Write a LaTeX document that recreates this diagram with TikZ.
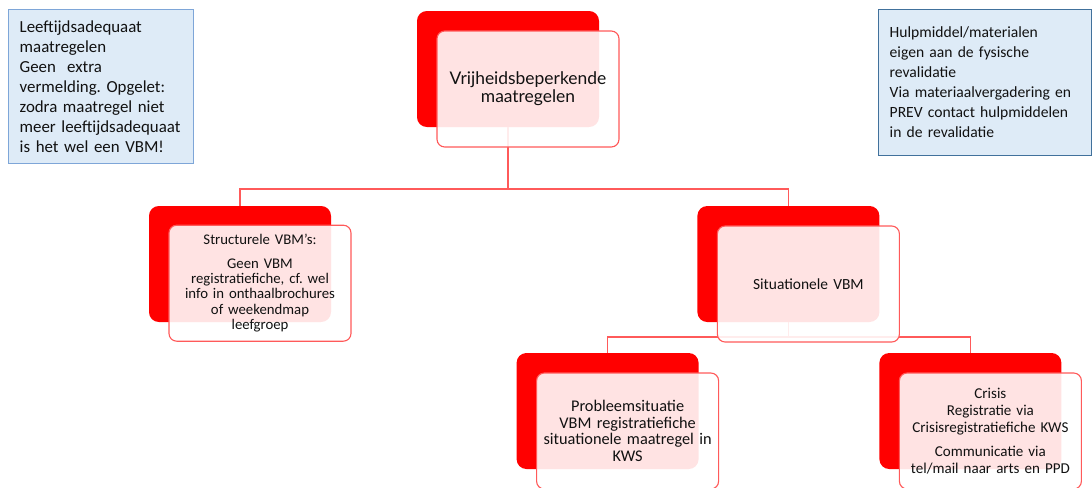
\documentclass[tikz,border=0pt]{standalone}
\usepackage{fontspec}
\setmainfont{Carlito}
\newfontfamily\latofont{Lato}
\usetikzlibrary{positioning}
\definecolor{vbmRed}{HTML}{FF0000}
\definecolor{linkRed}{HTML}{FF5A5A}
\definecolor{noteFill}{HTML}{DEEBF7}
\definecolor{noteEdgeA}{HTML}{7EA6D8}
\definecolor{noteEdgeB}{HTML}{41719C}
\definecolor{textDark}{HTML}{111111}
\frenchspacing
\hyphenpenalty=10000
\hbadness=10000

\begin{document}
\begin{tikzpicture}[
    back/.style={rectangle, rounded corners=7pt, fill=vbmRed,
                 minimum width=4.55cm, minimum height=2.9cm},
    front/.style={rectangle, rounded corners=5.5pt, draw=linkRed, line width=0.8pt,
                  fill=white, fill opacity=0.89, text opacity=1,
                  minimum width=4.55cm, minimum height=2.9cm,
                  align=center, text width=4.3cm, text=textDark},
    note/.style={rectangle, draw=#1, fill=noteFill, line width=0.7pt,
                 anchor=north west, align=left, inner xsep=0.28cm, text=textDark},
    link/.style={draw=linkRed, line width=0.9pt},
  ]
    \useasboundingbox (0,0) rectangle (27.3,-12.175);

    % side notes
    \node[note=noteEdgeA, text width=4.07cm, minimum height=3.85cm,
          font=\fontsize{12}{14.2}\selectfont] (age) at (0.2,-0.225)
      {Leeftijdsadequaat\\maatregelen\\Geen\ \ extra\\vermelding. Opgelet:\\zodra maatregel niet\\meer~leeftijdsadequaat\\is het wel een VBM!};
    \node[note=noteEdgeB, text width=4.76cm, minimum height=3.65cm,
          font=\fontsize{11.1}{14.2}\selectfont] (aid) at (21.95,-0.225)
      {Hulpmiddel/materialen\\eigen aan de fysische\\revalidatie\\Via materiaalvergadering en\\PREV contact hulpmiddelen\\in de revalidatie};

    % back blocks
    \node[back] (vbm) at (12.7,-1.725) {};
    \node[back] (struct) at (6.0,-6.6) {};
    \node[back] (situ) at (19.71,-6.6) {};
    \node[back] (probl) at (15.19,-10.275) {};
    \node[back] (crisis) at (24.26,-10.275) {};

    % connectors
    \coordinate (split1) at (12.7,-4.725);
    \coordinate (split2) at (19.71,-8.425);
    \draw[link] (vbm.south) -- (split1) -| (struct.north);
    \draw[link] (split1) -| (situ.north);
    \draw[link] (situ.south) -- (split2) -| (probl.north);
    \draw[link] (split2) -| (crisis.north);

    % front blocks
    \node[front, font=\latofont\fontsize{12.4}{13}\selectfont] (vbmF) at ([shift={(0.5,-0.5)}]vbm)
      {Vrijheidsbeperkende\\maatregelen};
    \node[front, font=\fontsize{10.5}{10.8}\selectfont] (structF) at ([shift={(0.5,-0.48)}]struct)
      {Structurele VBM’s:\\[6pt]Geen VBM\\registratiefiche, cf. wel\\info in onthaalbrochures\\of weekendmap\\leefgroep};
    \node[front, font=\fontsize{11}{12.4}\selectfont] (situF) at ([shift={(0.5,-0.5)}]situ)
      {Situationele VBM};
    \node[front, font=\fontsize{11.6}{11.9}\selectfont] (problF) at ([shift={(0.5,-0.5)}]probl)
      {Probleemsituatie\\VBM registratiefiche\\situationele maatregel in\\KWS};
    \node[front, font=\fontsize{10.7}{12.1}\selectfont] (crisisF) at ([shift={(0.5,-0.5)}]crisis)
      {Crisis\\Registratie via\\Crisisregistratiefiche KWS\\[5pt]Communicatie via\\tel/mail naar arts en PPD};
  \end{tikzpicture}
\end{document}
